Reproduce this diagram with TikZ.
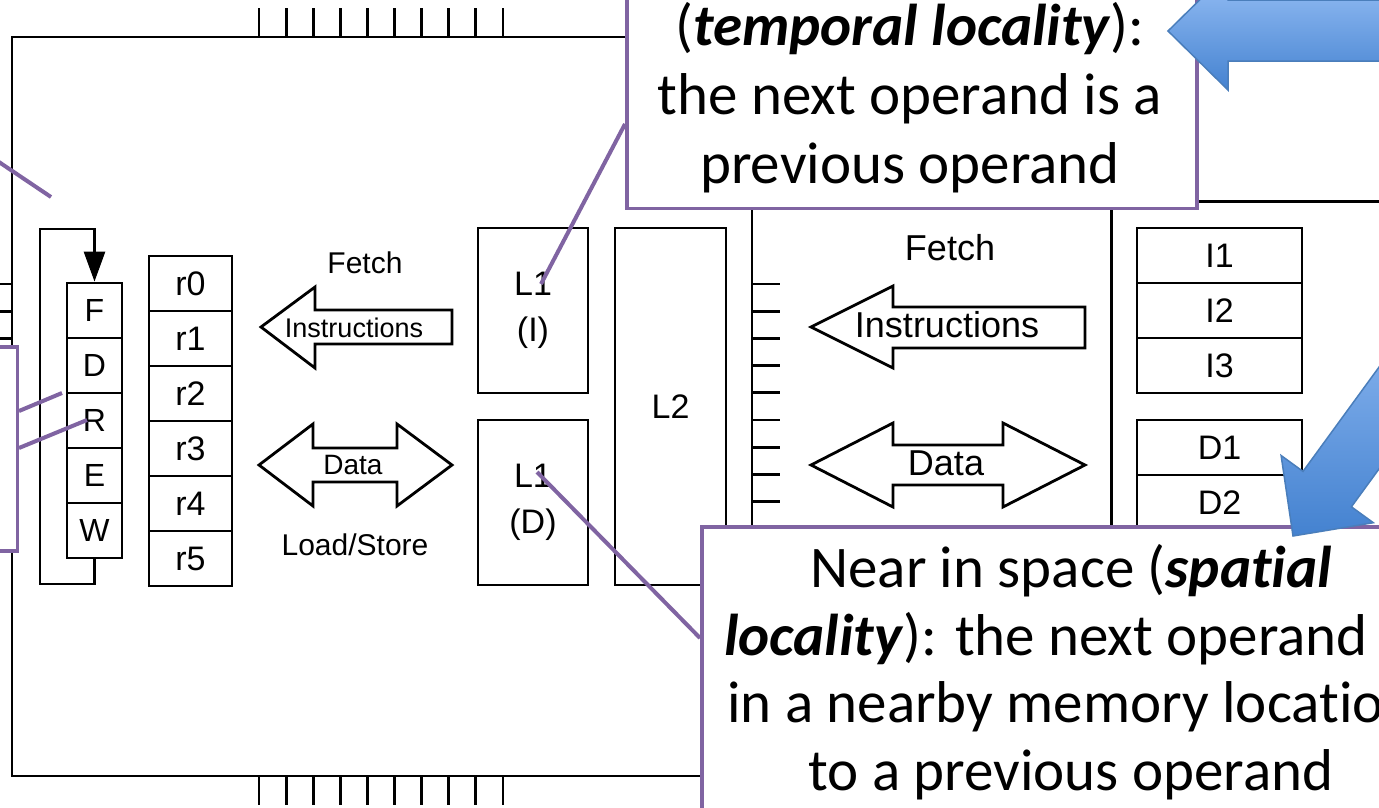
\documentclass[tikz,border=0pt]{standalone}
\usepackage{fontspec}
\setmainfont{Liberation Sans}
\newfontfamily\callfont[Ligatures=NoCommon,RawFeature={-clig;-calt}]{Carlito}
\usetikzlibrary{arrows.meta,positioning,calc}
\definecolor{callpurple}{RGB}{128,100,162}
\definecolor{arrowline}{RGB}{74,126,187}
\definecolor{arrowtop}{RGB}{152,192,246}
\definecolor{arrowbot}{RGB}{68,130,208}

\begin{document}
\begin{tikzpicture}[x=1pt,y=-1pt,
    box/.style={draw,line width=2.8pt,inner sep=0pt},
    stage/.style={box,minimum width=55pt,minimum height=55pt,font=\fontsize{32}{38}\selectfont},
    reg/.style={box,minimum width=83pt,minimum height=55pt,font=\fontsize{34}{40}\selectfont},
    slot/.style={box,minimum width=165pt,minimum height=55pt,font=\fontsize{34}{40}\selectfont},
    cache/.style={box,align=center,font=\fontsize{34}{46}\selectfont},
    blk/.style={draw,line width=2.8pt,line join=miter,fill=white},
    lbl/.style={anchor=base,inner sep=0pt},
    callout/.style={draw=callpurple,line width=3.5pt,fill=white,inner sep=0pt},
    calltxt/.style={anchor=base,inner sep=0pt,font=\callfont\fontsize{59}{69}\selectfont},
    ptr/.style={callpurple,line width=4pt},
    bigarrow/.style={draw=arrowline,line width=1.5pt,line join=miter,top color=arrowtop,bottom color=arrowbot}]
  \clip (0,0) rectangle (1379,807);

  \node[box,minimum width=740pt,minimum height=739pt] (chip) at (382,406.5) {};
  \node[box,minimum width=400pt,minimum height=700pt,anchor=north west] (mem) at (1110,200) {};
  \foreach \k in {0,...,9} {
    \draw[line width=2.8pt] ({259+27.1*\k},37) -- ++(0,-29);
    \draw[line width=2.8pt] ({259+27.1*\k},776) -- ++(0,29);
    \draw[line width=2.8pt] (12,{284+27.2*\k}) -- ++(-14,0);
    \draw[line width=2.8pt] (752,{284+27.2*\k}) -- ++(28,0);
  }

  \foreach \s [count=\i from 0] in {F,D,R,E,W}
    \node[stage] (st\s) at (94.5,{310.5+55*\i}) {\s};
  \draw[line width=2.8pt,-{Triangle[width=21pt,length=30pt]}] (stW.south) |- (40,584) |- (94.5,229) -- (stF.north);

  \foreach \i in {0,...,5}
    \node[reg] (r\i) at (190.5,{283.5+55*\i}) {r\i};

  \node[lbl,font=\fontsize{30}{36}\selectfont] (fetchL) at (365,273) {Fetch};
  \draw[blk] (261,327) -- (315,287) -- (315,310) -- (452,310) -- (452,344) -- (315,344) -- (315,368) -- cycle;
  \node[lbl,font=\fontsize{27}{32}\selectfont] (insL) at (354,337) {Instructions};
  \draw[blk] (259,465) -- (313,424) -- (313,448) -- (397,448) -- (397,424) -- (452,465) -- (397,506) -- (397,482) -- (313,482) -- (313,506) -- cycle;
  \node[lbl,font=\fontsize{28}{33}\selectfont] (dataL) at (353,474) {Data};
  \node[lbl,font=\fontsize{30}{36}\selectfont] (lsL) at (355,555) {Load/Store};

  \node[cache,minimum width=110pt,minimum height=165pt] (l1i) at (533,310.5) {L1\\(I)};
  \node[cache,minimum width=110pt,minimum height=165pt] (l1d) at (533,502.5) {L1\\(D)};
  \node[cache,minimum width=111pt,minimum height=357pt] (l2) at (670.5,406.5) {L2};

  \node[lbl,font=\fontsize{36}{43}\selectfont] (fetchR) at (950,260) {Fetch};
  \draw[blk] (811,327) -- (893,286) -- (893,307) -- (1085,307) -- (1085,348) -- (893,348) -- (893,368) -- cycle;
  \node[lbl,font=\fontsize{36}{43}\selectfont] (insR) at (947,337) {Instructions};
  \draw[blk] (811,465) -- (893,423) -- (893,445) -- (1003,445) -- (1003,423) -- (1085,465) -- (1003,507) -- (1003,485) -- (893,485) -- (893,507) -- cycle;
  \node[lbl,font=\fontsize{36}{43}\selectfont] (dataR) at (946,475) {Data};

  \foreach \s [count=\i from 0] in {I1,I2,I3}
    \node[slot] (\s) at (1219.5,{255.5+55*\i}) {\s};
  \foreach \s [count=\i from 0] in {D1,D2}
    \node[slot] (\s) at (1219.5,{447.5+55*\i}) {\s};

  \node[callout,minimum width=200pt,minimum height=204pt,anchor=east] (callL) at (19,449) {};
  \node[callout,minimum width=570pt,minimum height=320pt,anchor=south west] (callT) at (625,210) {};
  \node[calltxt] (tl1) at (910,45) {(\textbf{\textit{temporal locality}}):};
  \node[calltxt] (tl2) at (910,114) {the next operand is a};
  \node[calltxt] (tl3) at (910,183) {previous operand};
  \node[callout,minimum width=742pt,minimum height=400pt,anchor=north west] (callB) at (700,525) {};
  \node[calltxt] (bl1) at (1071,587) {Near in space (\textbf{\textit{spatial}}};
  \node[calltxt] (bl2) at (1071,655) {\textbf{\textit{locality}}): the next operand\phantom{ is}};
  \node[calltxt] (bl3) at (1071,722) {in a nearby memory locatio\phantom{n}};
  \node[calltxt] (bl4) at (1071,790) {to a previous operand};

  \coordinate (offL) at (-10,156);
  \coordinate (tipFD) at (51,197);
  \coordinate (tipR1) at (62,393);
  \coordinate (tipR2) at (87,420);
  \coordinate (tipI) at (541,284);
  \coordinate (tipD) at (537,472);
  \draw[ptr] (offL) -- (tipFD);
  \draw[ptr] (callL.east |- 0,411) -- (tipR1);
  \draw[ptr] (callL.east |- 0,448) -- (tipR2);
  \draw[ptr] (callT.west |- 0,124) -- (tipI);
  \draw[ptr] (callB.west |- 0,638) -- (tipD);

  \draw[bigarrow] (1168,31) -- (1228,-28) -- (1228,0) -- (1450,0) -- (1450,61) -- (1228,61) -- (1228,90) -- cycle;
  \draw[bigarrow] (1293,536) -- (1373.3,522.7) -- (1351.4,506.8) -- (1493.9,311.3) -- (1445.5,275.9) -- (1303,471.4) -- (1281.1,455.5) -- cycle;
\end{tikzpicture}
\end{document}
